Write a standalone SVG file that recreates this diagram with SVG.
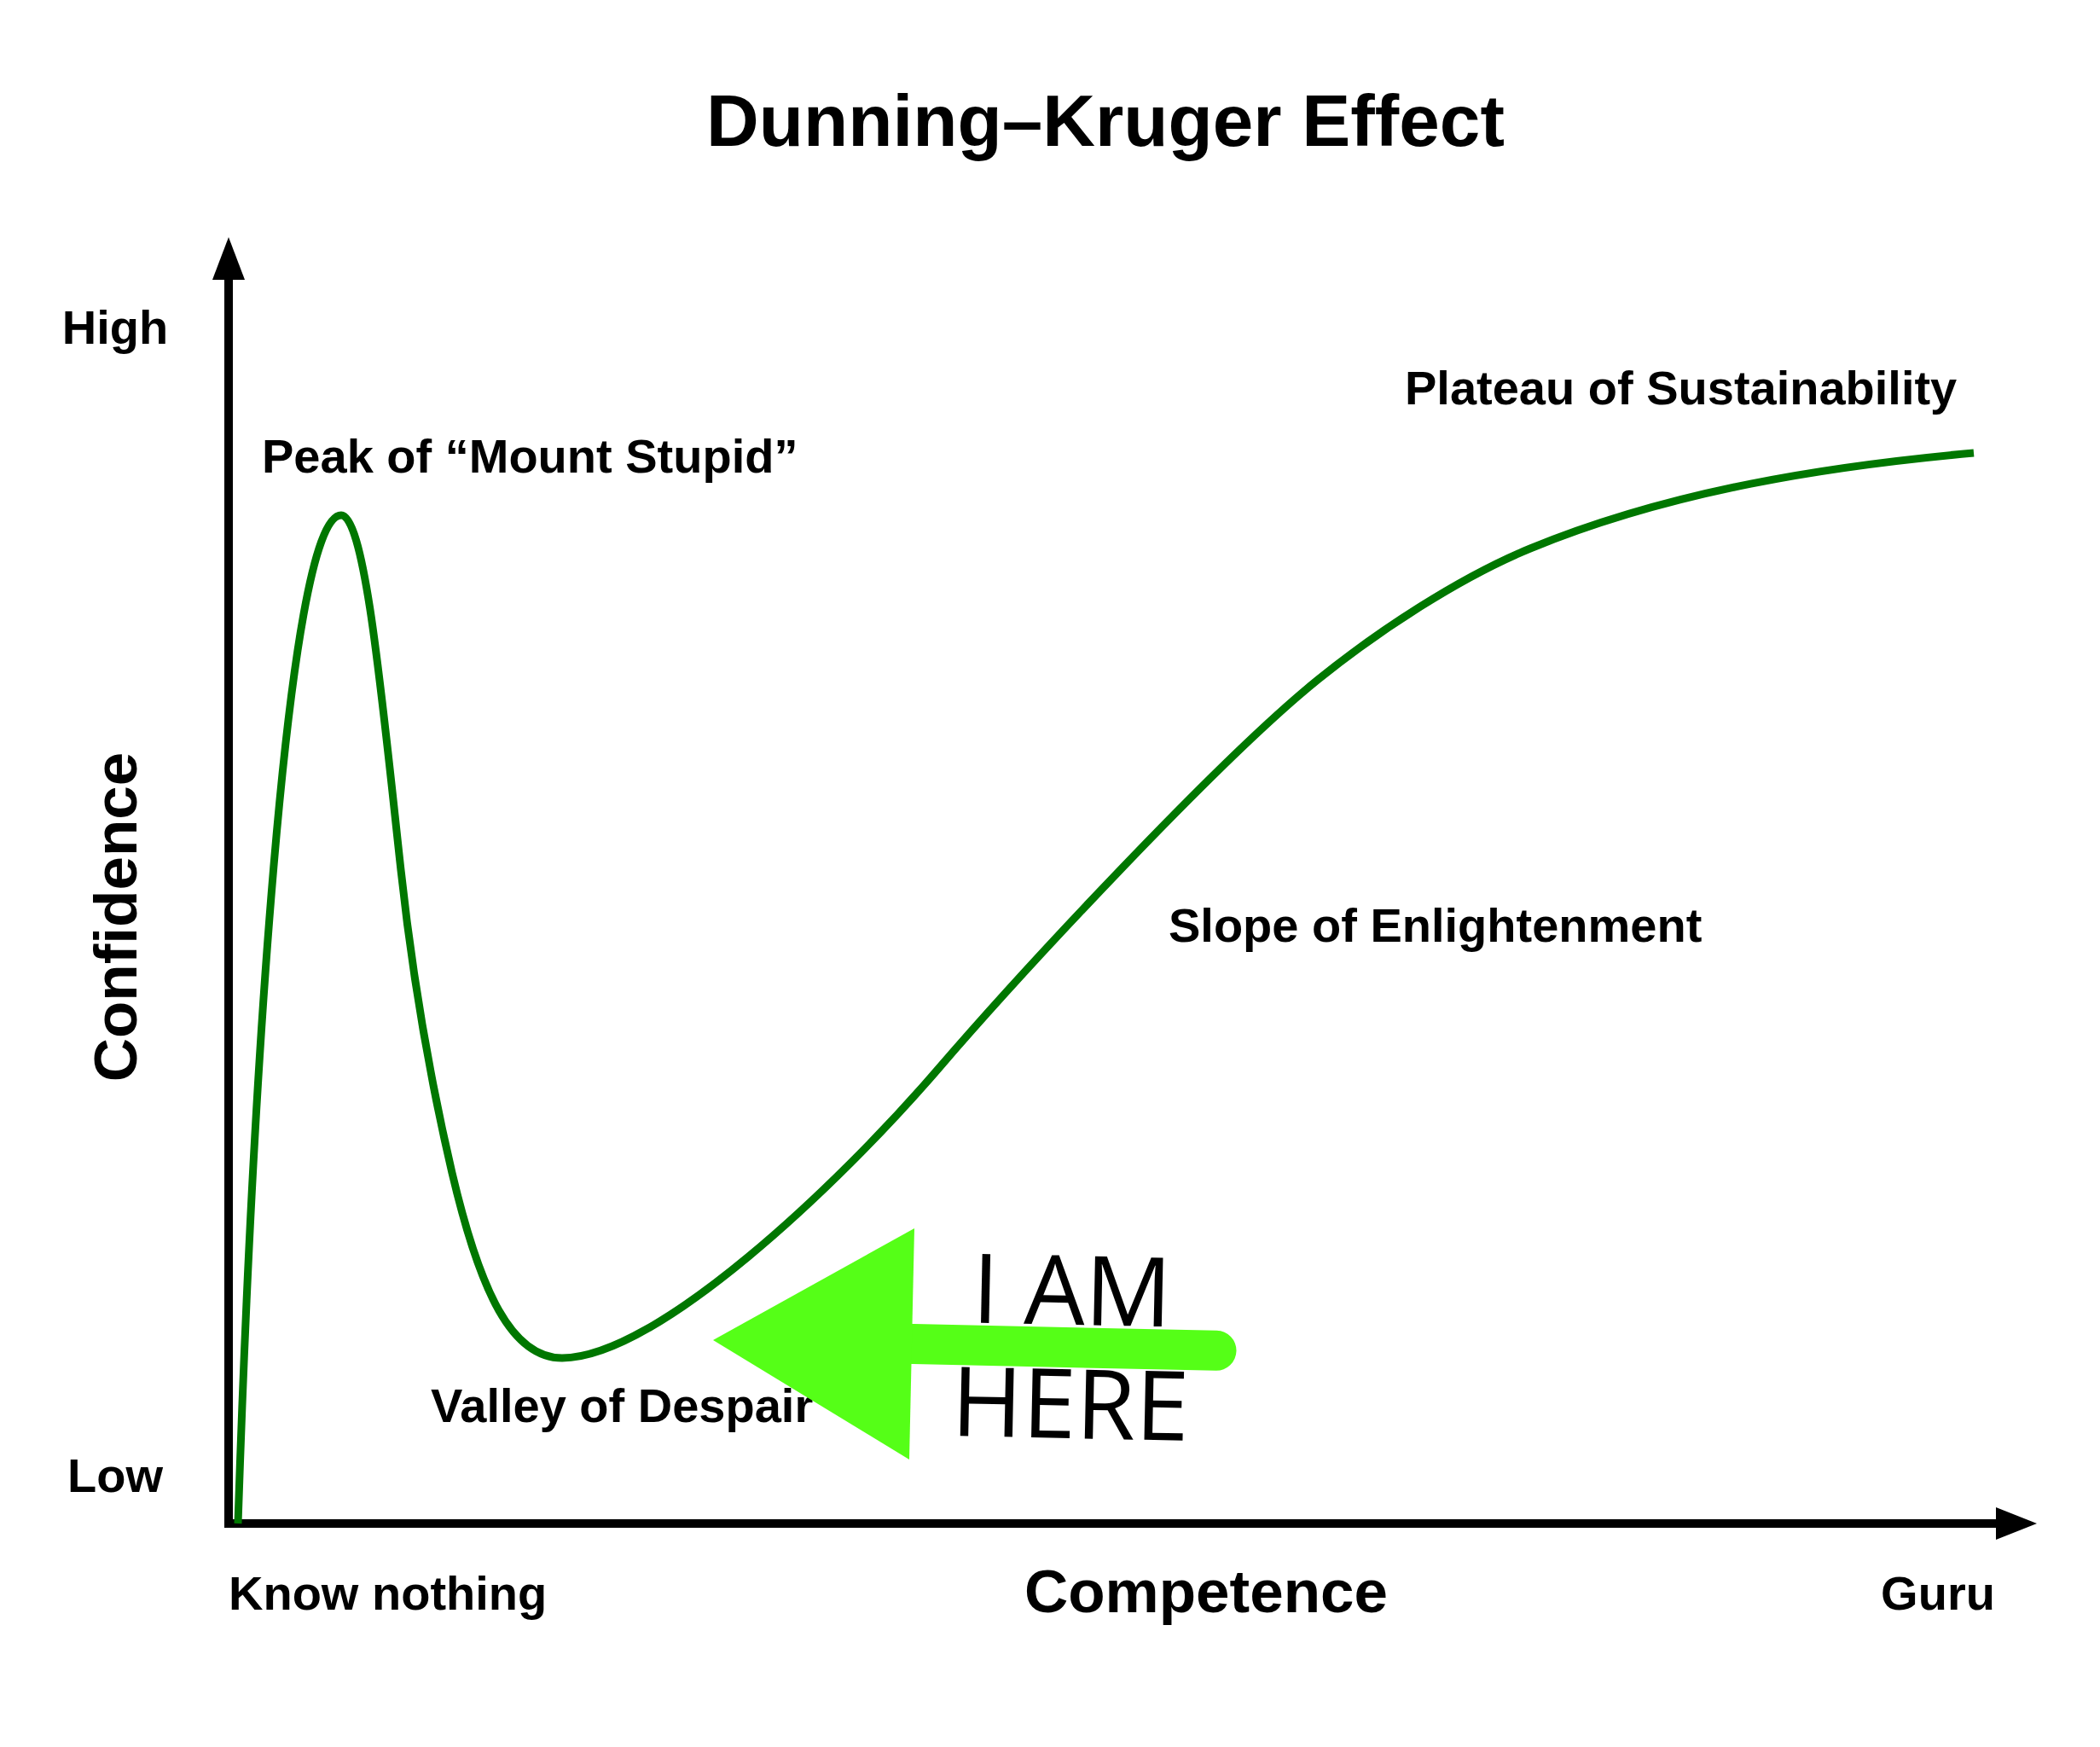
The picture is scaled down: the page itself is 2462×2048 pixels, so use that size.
<svg xmlns="http://www.w3.org/2000/svg" width="2462" height="2048" viewBox="0 0 2462 2048">
<style>
.lbl{font-family:"Liberation Sans",Arial,sans-serif;font-weight:bold;font-size:56px;fill:#000}
.big{font-family:"Liberation Sans",Arial,sans-serif;font-weight:bold;font-size:71px;fill:#000}
.here{font-family:"Open Sans","Noto Sans",sans-serif;font-size:113px;fill:#000}
.axis{stroke:#000;stroke-width:10;fill:none}
</style>
<rect width="2462" height="2048" fill="#fff"/>
<g id="title"><text x="1296" y="171" text-anchor="middle" style="font-family:'Liberation Sans',Arial,sans-serif;font-weight:bold;font-size:85.5px">Dunning–Kruger Effect</text></g>
<g id="axes">
<line class="axis" x1="268" y1="1791" x2="268" y2="322"/>
<polygon points="268,278 249,328 287,328" fill="#000"/>
<line class="axis" x1="263" y1="1786" x2="2345" y2="1786"/>
<polygon points="2388,1786 2340,1767 2340,1805" fill="#000"/>
</g>
<g id="axis-labels">
<text class="lbl" x="135" y="403" text-anchor="middle">High</text>
<text class="lbl" x="135" y="1749" text-anchor="middle">Low</text>
<text class="lbl" x="268" y="1887">Know nothing</text>
<text class="big" x="1414" y="1890" text-anchor="middle">Competence</text>
<text class="lbl" x="2272" y="1887" text-anchor="middle">Guru</text>
<text class="big" transform="rotate(-90)" x="-1075" y="160" text-anchor="middle">Confidence</text>
</g>
<g id="curve">
<path fill="none" stroke="#007700" stroke-width="9" d="M279,1786 C295,1300 335,604 400,604 C428,604 448,820 470,1020 C483,1140 502,1255 530,1375 C563,1515 600,1592 659,1592 C769,1592 982.5,1389.6 1100,1253 C1198,1139.3 1429.2,890 1546,796 C1616.1,739.6 1710.75,677.2 1794,643 C1960.5,574.6 2144,546.3 2314,531"/>
</g>
<g id="stage-labels">
<text class="lbl" x="307" y="554">Peak of “Mount Stupid”</text>
<text class="lbl" x="1647" y="474">Plateau of Sustainability</text>
<text class="lbl" x="1370" y="1104">Slope of Enlightenment</text>
<text class="lbl" x="505" y="1667">Valley of Despair</text>
</g>
<g id="i-am-here">
<path d="M1060,1575.3 L1426,1583.3" stroke="#55ff17" stroke-width="47" stroke-linecap="round" fill="none"/>
<polygon points="836,1571 1072,1440 1066,1711" fill="#55ff17"/>
<text class="here" x="1256" y="1553" text-anchor="middle" transform="rotate(1.2 1256 1553)">I AM</text>
<text class="here" x="1254" y="1686" text-anchor="middle" transform="rotate(1.2 1254 1686)">HERE</text>
</g>
</svg>
